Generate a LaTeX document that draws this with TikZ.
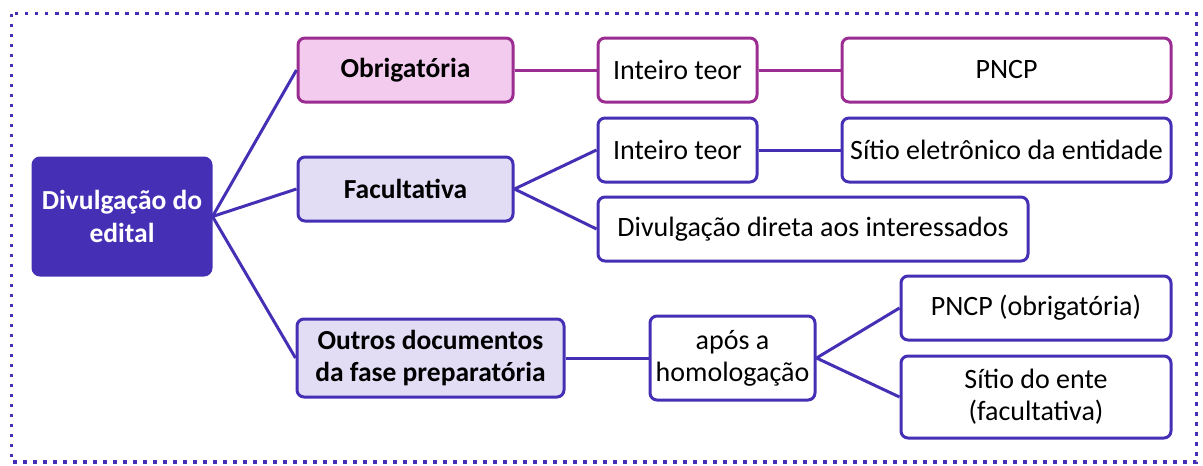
\documentclass[tikz,border=0pt]{standalone}
\usepackage{fontspec}
\setmainfont{Carlito}
\definecolor{deep}{HTML}{4530B5}
\definecolor{mag}{HTML}{9B2C91}
\definecolor{pinkfill}{HTML}{F2CBEF}
\definecolor{lavfill}{HTML}{E2DDF5}
\tikzset{
  box/.style={draw=deep, line width=3pt, rounded corners=7pt, fill=white, inner sep=0pt, align=center, font=\fontsize{28}{32}\selectfont},
  magbox/.style={box, draw=mag},
  midbox/.style={box, fill=lavfill, font=\fontsize{27.5}{32}\selectfont\bfseries},
  rootbox/.style={box, fill=deep, text=white, font=\fontsize{27.5}{33}\selectfont\bfseries},
  link/.style={draw=deep, line width=3pt},
  maglink/.style={draw=mag, line width=3pt},
}
\begin{document}
\begin{tikzpicture}[x=1pt,y=-1pt]
\useasboundingbox (0,0) rectangle (1203,466);
\draw[deep, line width=3.5pt, dash pattern=on 3.5pt off 6.5pt] (11.5,13.5) rectangle (1196.5,462);
\node[rootbox, minimum width=178pt, minimum height=117pt] (root) at (122,216.5) {Divulgação do\\edital};
\node[magbox, fill=pinkfill, font=\fontsize{27.5}{32}\selectfont\bfseries, minimum width=215pt, minimum height=64pt] (obr) at (405.5,70) {Obrigatória};
\node[magbox, minimum width=159pt, minimum height=64pt] (int1) at (677.5,70) {Inteiro teor};
\node[magbox, minimum width=329pt, minimum height=64pt] (pncp) at (1006.5,70) {PNCP};
\node[midbox, minimum width=215pt, minimum height=64pt] (fac) at (405.5,189) {Facultativa};
\node[box, minimum width=159pt, minimum height=64pt] (int2) at (677.5,150) {Inteiro teor};
\node[box, minimum width=329pt, minimum height=64pt] (sitio) at (1006.5,150) {Sítio eletrônico da entidade};
\node[box, minimum width=430pt, minimum height=64pt] (dir) at (813,229) {Divulgação direta aos interessados};
\node[midbox, minimum width=267pt, minimum height=78pt] (outros) at (430.5,358) {Outros documentos\\da fase preparatória};
\node[box, minimum width=165pt, minimum height=84pt] (apos) at (732.5,358) {após a\\homologação};
\node[box, minimum width=270pt, minimum height=64pt] (pncpo) at (1036,308) {PNCP (obrigatória)};
\node[box, minimum width=270pt, minimum height=82pt] (ente) at (1036,397) {Sítio do ente\\(facultativa)};
\draw[link] (root.east) -- (obr.west);
\draw[link] (root.east) -- (fac.west);
\draw[link] (root.east) -- (outros.west);
\draw[maglink] (obr.east) -- (int1.west);
\draw[maglink] (int1.east) -- (pncp.west);
\draw[link] (fac.east) -- (int2.west);
\draw[link] (fac.east) -- (dir.west);
\draw[link] (int2.east) -- (sitio.west);
\draw[link] (outros.east) -- (apos.west);
\draw[link] (apos.east) -- (pncpo.west);
\draw[link] (apos.east) -- (ente.west);
\end{tikzpicture}
\end{document}
